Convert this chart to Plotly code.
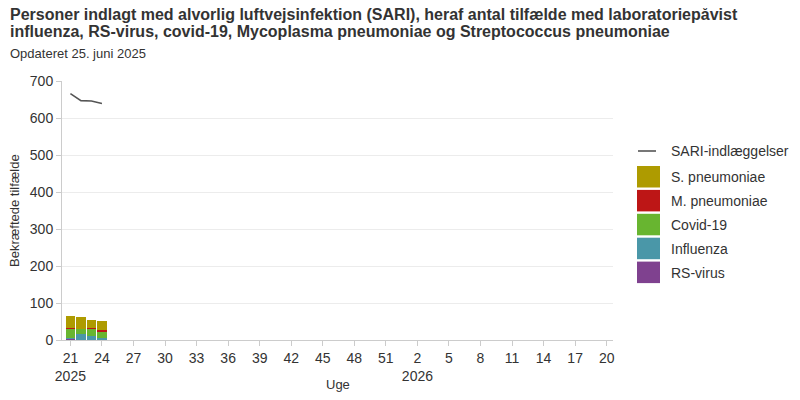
import plotly.graph_objects as go

# ---- data ----
weeks = list(range(21, 53)) + list(range(1, 21))
years = [2025] * 32 + [2026] * 20
categories = [f"{y}-W{w:02d}" for y, w in zip(years, weeks)]

series_names = ["RS-virus", "Influenza", "Covid-19", "M. pneumoniae", "S. pneumoniae"]
series_colors = ["#7f418f", "#4a97a8", "#68b530", "#bd1616", "#ae9b00"]
rs_virus = [3, 1, 0, 1]
influenza = [2, 15, 11, 5]
covid19 = [25, 14, 19, 17]
m_pneumoniae = [3, 1, 3, 3]
s_pneumoniae = [32, 32, 21, 26]
series_values = [rs_virus, influenza, covid19, m_pneumoniae, s_pneumoniae]

sari = [666, 647, 646, 639]
sari_name = "SARI-indlæggelser"
sari_color = "#555555"

tick_idx = list(range(0, 52, 3))
tick_vals = [categories[i] for i in tick_idx]
tick_text = []
for i in tick_idx:
    if i == 0 or years[i] != years[i - 3]:
        tick_text.append(f"{weeks[i]}<br>{years[i]}")
    else:
        tick_text.append(str(weeks[i]))

FONT = "Liberation Sans, Arial, sans-serif"
TXT = "#333333"

fig = go.Figure()
for name, color, vals in zip(series_names, series_colors, series_values):
    fig.add_trace(go.Bar(x=categories[:len(vals)], y=vals, name=name,
                         marker=dict(color=color, line=dict(width=0)),
                         showlegend=False))
fig.add_trace(go.Scatter(x=categories[:len(sari)], y=sari, name=sari_name, mode="lines",
                         line=dict(color=sari_color, width=1.6), showlegend=False))

# ---- layout geometry (pixels, page has an 8px body margin) ----
OFF = 8
W, H = 800 - OFF, 400 - OFF
L, T = 62 - OFF, 81 - OFF
R, B = 800 - 613, 400 - 340
pw, ph = W - L - R, H - T - B
def px(x):
    return (x - OFF - L) / pw
def py(y):
    return (H - B - (y - OFF)) / ph

annotations = [
    dict(text="<b>Personer indlagt med alvorlig luftvejsinfektion (SARI), heraf antal tilfælde med laboratoriepåvist</b>",
         x=px(8), y=py(14), xanchor="left", yanchor="middle", font=dict(size=16, color="#333333")),
    dict(text="<b>influenza, RS-virus, covid-19, Mycoplasma pneumoniae og Streptococcus pneumoniae</b>",
         x=px(8), y=py(32), xanchor="left", yanchor="middle", font=dict(size=16, color="#333333")),
    dict(text="Opdateret 25. juni 2025", x=px(8), y=py(53), xanchor="left", yanchor="middle",
         font=dict(size=13, color="#333333")),
    dict(text="Bekræftede tilfælde", x=px(14), y=py(211), xanchor="center", yanchor="middle",
         textangle=-90, font=dict(size=13, color=TXT)),
    dict(text="Uge", x=px(338), y=py(384), xanchor="center", yanchor="middle",
         font=dict(size=13, color=TXT)),
]
shapes = []

# custom legend
leg_x_text = 669
annotations.append(dict(text=sari_name, x=px(leg_x_text), y=py(151), xanchor="left", yanchor="middle",
                        font=dict(size=14, color=TXT)))
shapes.append(dict(type="line", xref="paper", yref="paper", x0=px(638), x1=px(656), y0=py(151), y1=py(151),
                   line=dict(color=sari_color, width=1.6)))
legend_order = list(reversed(list(zip(series_names, series_colors))))
for k, (name, color) in enumerate(legend_order):
    top = 166 + k * 23.9
    shapes.append(dict(type="rect", xref="paper", yref="paper", x0=px(637), x1=px(660),
                       y0=py(top), y1=py(top + 21.5), fillcolor=color, line=dict(width=0)))
    annotations.append(dict(text=name, x=px(leg_x_text), y=py(top + 11), xanchor="left", yanchor="middle",
                            font=dict(size=14, color=TXT)))

for a in annotations:
    a.update(xref="paper", yref="paper", showarrow=False)

fig.update_layout(
    width=W, height=H,
    margin=dict(l=L, r=R, t=T, b=B, pad=0, autoexpand=False),
    barmode="stack", bargap=0.08,
    plot_bgcolor="white", paper_bgcolor="white",
    font=dict(family=FONT, size=14, color=TXT),
    annotations=annotations, shapes=shapes,
    showlegend=False,
    xaxis=dict(type="category", categoryorder="array", categoryarray=categories,
               range=[-0.8, 51.6], tickmode="array", tickvals=tick_vals, ticktext=tick_text,
               ticks="outside", ticklen=5, tickcolor="#cccccc", showline=True, linecolor="#cccccc",
               showgrid=False, tickfont=dict(size=14, color=TXT), zeroline=False, automargin=False),
    yaxis=dict(range=[0, 700], dtick=100, ticks="outside", ticklen=5, tickcolor="#cccccc",
               showline=True, linecolor="#cccccc", gridcolor="#ececec", zeroline=False,
               tickfont=dict(size=14, color=TXT), automargin=False),
)

fig.write_html("out.html")
